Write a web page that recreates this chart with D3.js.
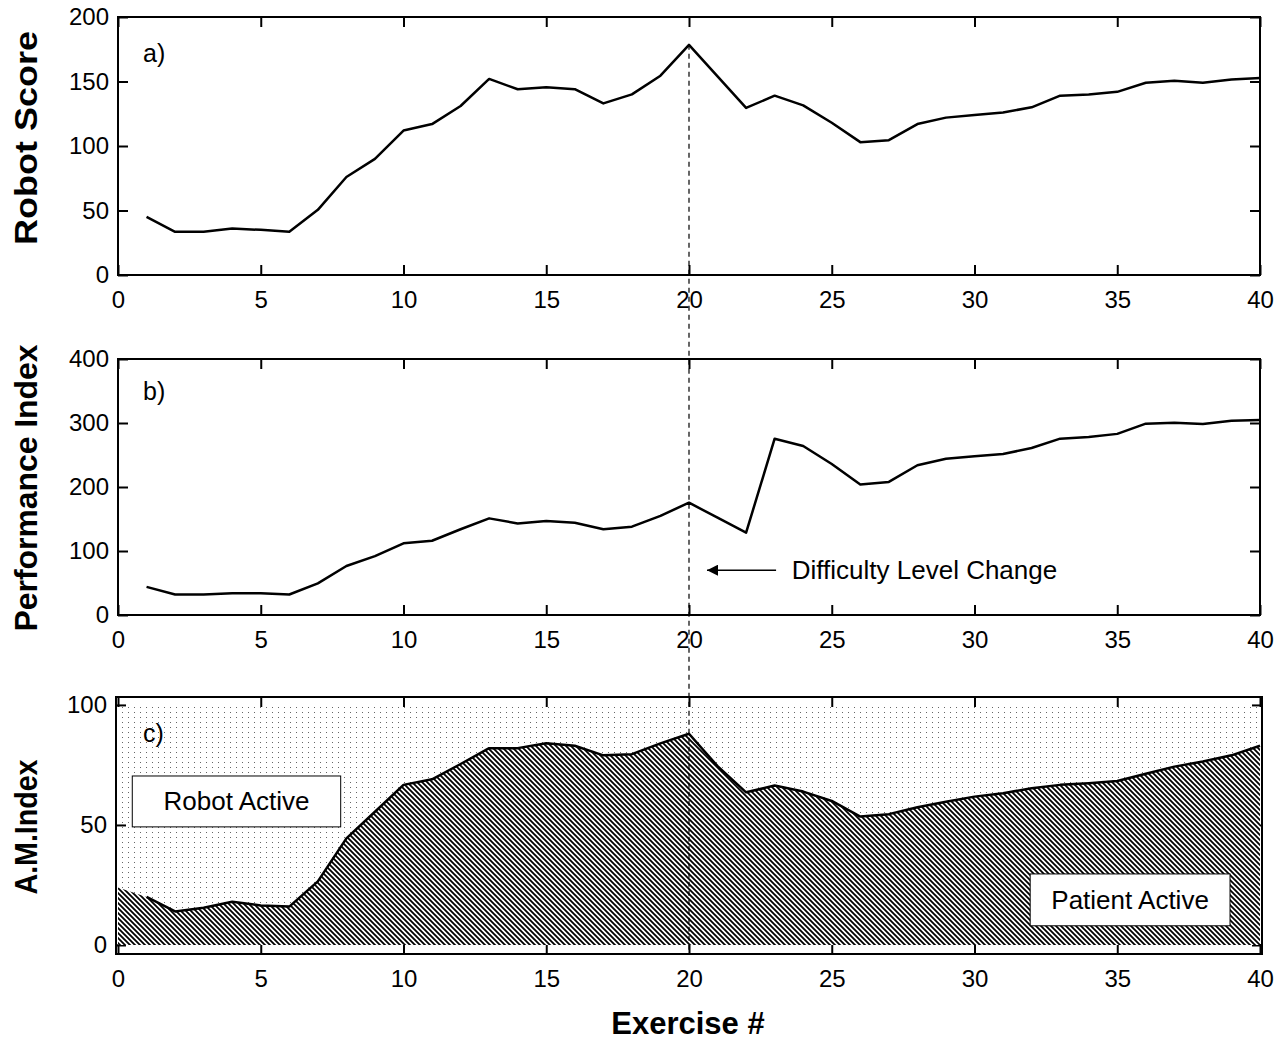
<!DOCTYPE html>
<html>
<head>
<meta charset="utf-8">
<script src="https://cdn.jsdelivr.net/npm/d3@7"></script>
<style>
  body { margin: 0; background: #fff; }
  svg text { font-family: "Liberation Sans", Arial, sans-serif; fill: #000; }
</style>
</head>
<body>
<svg width="1284" height="1041"></svg>
<script>
const exercise = [1, 2, 3, 4, 5, 6, 7, 8, 9, 10, 11, 12, 13, 14, 15, 16, 17, 18, 19, 20,
  21, 22, 23, 24, 25, 26, 27, 28, 29, 30, 31, 32, 33, 34, 35, 36, 37, 38, 39, 40];
const robotScore = [45, 33.5, 33.5, 36, 35, 33.5, 50.5, 76, 90, 112, 117, 131, 152, 144, 145.5, 144, 133, 140, 154.5, 178.4,
  154, 129.5, 139, 131.5, 118, 103, 104.5, 117, 122, 124, 126, 130, 139, 140, 142, 149, 150.5, 149, 151.6, 152.7];
const perfIndex = [44, 32, 32, 34, 34, 32, 49.5, 76.5, 92, 112, 116, 134, 151, 143, 147, 144, 134, 138, 155, 175.5,
  152, 128.6, 275.5, 264, 236, 204, 208, 234, 244, 248, 251.5, 261, 275.5, 278, 283, 299, 300.5, 298.5, 303.6, 304.7];
const amIndex = [20, 14, 15.5, 18, 16.5, 16, 26.5, 44.4, 55.5, 66.7, 69, 75.4, 82, 82, 84, 83, 79, 79.5, 84, 88,
  74.5, 63.6, 66.4, 63.9, 60, 53.5, 54.5, 57.4, 59.7, 61.8, 63.2, 65.3, 66.7, 67.4, 68.3, 71.3, 74.3, 76.4, 79, 83];
// hatched area starts at exercise 0
const amStartX = 0;
const amStartValue = 24;
const xTicks = [0, 5, 10, 15, 20, 25, 30, 35, 40];
const scoreTicks = [0, 50, 100, 150, 200];
const perfTicks = [0, 100, 200, 300, 400];
const amTicks = [0, 50, 100];
const changeAt = 20;

const svg = d3.select('svg');

const x = d3.scaleLinear().domain([0, 40]).range([118, 1260]);
const yA = d3.scaleLinear().domain([0, 200]).range([275, 17]);
const yB = d3.scaleLinear().domain([0, 400]).range([615, 359]);
const yC = d3.scaleLinear().domain([-3.75, 103.3]).range([954, 697]);

const defs = svg.append('defs');
const dots = defs.append('pattern')
  .attr('id', 'dots')
  .attr('patternUnits', 'userSpaceOnUse')
  .attr('width', 6)
  .attr('height', 5);
dots.append('rect').attr('x', 2).attr('y', 2).attr('width', 1).attr('height', 1).attr('fill', '#666');

const hatch = defs.append('pattern')
  .attr('id', 'hatch')
  .attr('patternUnits', 'userSpaceOnUse')
  .attr('width', 5)
  .attr('height', 5);
hatch.append('rect').attr('width', 5).attr('height', 5).attr('fill', '#fff');
hatch.append('path')
  .attr('d', 'M-1,-1L6,6M-1,4L1,6M4,-1L6,1')
  .attr('stroke', '#000')
  .attr('stroke-width', 1.8);

defs.append('marker')
  .attr('id', 'arrow')
  .attr('viewBox', '0 0 10 10')
  .attr('refX', 10)
  .attr('refY', 5)
  .attr('markerUnits', 'userSpaceOnUse')
  .attr('markerWidth', 14)
  .attr('markerHeight', 11)
  .attr('orient', 'auto')
  .append('path')
  .attr('d', 'M0,0L10,5L0,10Z')
  .attr('fill', '#000');

function styleAxis(g) {
  g.select('.domain').remove();
  g.selectAll('line').attr('stroke', '#000').attr('stroke-width', 2);
  g.selectAll('text').attr('font-size', 24).attr('fill', '#000');
}

function drawAxes(y, ticks, top, bottom, left, right) {
  svg.append('g')
    .attr('transform', `translate(0,${bottom})`)
    .call(d3.axisBottom(x).tickValues(xTicks).tickSizeInner(-10).tickSizeOuter(0).tickPadding(16))
    .call(styleAxis);
  svg.append('g')
    .attr('transform', `translate(0,${top})`)
    .call(d3.axisTop(x).tickValues(xTicks).tickSizeInner(-10).tickSizeOuter(0).tickFormat(''))
    .call(styleAxis);
  svg.append('g')
    .attr('transform', `translate(${left},0)`)
    .call(d3.axisLeft(y).tickValues(ticks).tickSizeInner(-10).tickSizeOuter(0).tickPadding(9))
    .call(styleAxis);
  svg.append('g')
    .attr('transform', `translate(${right},0)`)
    .call(d3.axisRight(y).tickValues(ticks).tickSizeInner(-10).tickSizeOuter(0).tickFormat(''))
    .call(styleAxis);
}

function drawBox(top, bottom, left, right) {
  svg.append('rect')
    .attr('x', left).attr('y', top)
    .attr('width', right - left).attr('height', bottom - top)
    .attr('fill', 'none').attr('stroke', '#000').attr('stroke-width', 2);
}

function drawLine(y, values) {
  const line = d3.line().x((d, i) => x(exercise[i])).y((d) => y(d));
  svg.append('path')
    .datum(values)
    .attr('d', line)
    .attr('fill', 'none')
    .attr('stroke', '#000')
    .attr('stroke-width', 2.5)
    .attr('stroke-linejoin', 'round');
}

// panel a
drawAxes(yA, scoreTicks, 17, 275, 118, 1260);
drawLine(yA, robotScore);
drawBox(17, 275, 118, 1260);

// panel b
drawAxes(yB, perfTicks, 359, 615, 118, 1260);
drawLine(yB, perfIndex);
drawBox(359, 615, 118, 1260);

// panel c
drawAxes(yC, amTicks, 697, 954, 116, 1262);
const amArea = [[amStartX, amStartValue]].concat(exercise.map((e, i) => [e, amIndex[i]]));
svg.append('path')
  .datum(amArea)
  .attr('d', d3.area().x((d) => x(d[0])).y0(yC(100)).y1((d) => yC(d[1])))
  .attr('fill', 'url(#dots)');
svg.append('path')
  .datum(amArea)
  .attr('d', d3.area().x((d) => x(d[0])).y0(yC(0)).y1((d) => yC(d[1])))
  .attr('fill', 'url(#hatch)');
drawLine(yC, amIndex);
drawBox(697, 954, 116, 1262);

// difficulty change marker
svg.append('line')
  .attr('x1', x(changeAt)).attr('x2', x(changeAt))
  .attr('y1', yA(robotScore[exercise.indexOf(changeAt)]))
  .attr('y2', 954)
  .attr('stroke', '#000')
  .attr('stroke-width', 1.2)
  .attr('stroke-dasharray', '5,4');

// panel labels
[['a)', 62], ['b)', 400], ['c)', 742]].forEach(([t, yy]) => {
  svg.append('text').attr('x', 143).attr('y', yy).attr('font-size', 25).text(t);
});

// text boxes in panel c
function labelBox(text, x0, x1, v0, v1) {
  svg.append('rect')
    .attr('x', x(x0)).attr('y', yC(v0))
    .attr('width', x(x1) - x(x0)).attr('height', yC(v1) - yC(v0))
    .attr('fill', '#fff').attr('stroke', '#000').attr('stroke-width', 1);
  svg.append('text')
    .attr('x', (x(x0) + x(x1)) / 2)
    .attr('y', (yC(v0) + yC(v1)) / 2 + 9)
    .attr('text-anchor', 'middle')
    .attr('font-size', 26)
    .text(text);
}
labelBox('Robot Active', 0.5, 7.8, 70.4, 49.2);
labelBox('Patient Active', 31.95, 38.95, 29.6, 8);

// arrow annotation
svg.append('line')
  .attr('x1', x(23.05)).attr('x2', x(20.63))
  .attr('y1', yB(70)).attr('y2', yB(70))
  .attr('stroke', '#000').attr('stroke-width', 1.5)
  .attr('marker-end', 'url(#arrow)');
svg.append('text')
  .attr('x', x(23.6)).attr('y', yB(70) + 9)
  .attr('font-size', 26)
  .text('Difficulty Level Change');

// axis titles
function yTitle(text, center, len) {
  svg.append('text')
    .attr('transform', `translate(37,${center}) rotate(-90)`)
    .attr('text-anchor', 'middle')
    .attr('font-size', 32)
    .attr('font-weight', 'bold')
    .attr('textLength', len)
    .attr('lengthAdjust', 'spacingAndGlyphs')
    .text(text);
}
yTitle('Robot Score', 138, 214);
yTitle('Performance Index', 488, 287);
yTitle('A.M.Index', 827, 135);

svg.append('text')
  .attr('x', 688).attr('y', 1034)
  .attr('text-anchor', 'middle')
  .attr('font-size', 31)
  .attr('font-weight', 'bold')
  .text('Exercise #');
</script>
</body>
</html>
